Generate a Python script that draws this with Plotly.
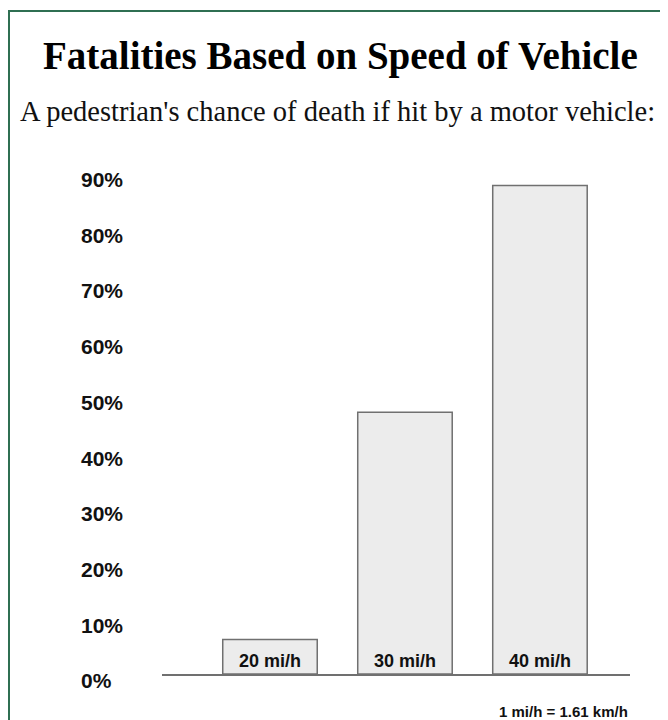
import plotly.graph_objects as go

# Data
speeds = ["20 mi/h", "30 mi/h", "40 mi/h"]
death_chance = [6.2, 47.0, 87.7]
tick_values = [0, 10, 20, 30, 40, 50, 60, 70, 80, 90]
tick_labels = ["0%\u2007", "10%", "20%", "30%", "40%", "50%", "60%", "70%", "80%", "90%"]

title_text = "Fatalities Based on Speed of Vehicle"
subtitle_text = "A pedestrian's chance of death if hit by a motor vehicle:"
footnote_text = "1 mi/h = 1.61 km/h"

OFF = 8  # browser default body margin
W, H = 668 - OFF, 720 - OFF
L, R, T, B = 162 - OFF, 38, 134 - OFF, 46
plot_w = W - L - R
plot_h = H - T - B

def px_x(p):
    return (p - OFF - L) / plot_w

def px_y(p):
    return (H - B - (p - OFF)) / plot_h

fig = go.Figure()
fig.add_trace(go.Bar(
    x=speeds,
    y=death_chance,
    width=0.70,
    marker=dict(color="#ececec", line=dict(color="#707070", width=1.5)),
    text=speeds,
    textposition="inside",
    insidetextanchor="start",
    textangle=0,
    constraintext="none",
    textfont=dict(family="Liberation Sans, Arial, sans-serif", size=18, color="#111111", weight="bold"),
    hoverinfo="skip",
    showlegend=False,
))

fig.update_layout(
    width=W, height=H,
    margin=dict(l=L, r=R, t=T, b=B, pad=0),
    paper_bgcolor="white",
    plot_bgcolor="white",
    bargap=0.3,
    xaxis=dict(
        range=[-0.8, 2.667],
        showticklabels=False,
        ticks="",
        showgrid=False,
        zeroline=False,
        showline=True,
        linecolor="#707070",
        linewidth=1.5,
        fixedrange=True,
    ),
    yaxis=dict(
        range=[0, plot_h / 5.57],
        tickvals=tick_values,
        ticktext=tick_labels,
        ticks="",
        showgrid=False,
        zeroline=False,
        showline=False,
        ticklabelshift=7,
        ticklabelstandoff=38,
        tickfont=dict(family="Liberation Sans, Arial, sans-serif", size=21, color="#111111", weight="bold"),
        fixedrange=True,
    ),
    shapes=[
        dict(type="path", xref="paper", yref="paper",
             path=f"M {px_x(9)} {px_y(740)} L {px_x(9)} {px_y(11)} L {px_x(700)} {px_y(11)}",
             line=dict(color="#2f6f52", width=2)),
    ],
    annotations=[
        dict(text=title_text, xref="paper", yref="paper",
             x=px_x(340), y=px_y(56), xanchor="center", yanchor="middle", showarrow=False,
             font=dict(family="Liberation Serif, Times New Roman, serif", size=39, color="#000000", weight="bold")),
        dict(text=subtitle_text, xref="paper", yref="paper",
             x=px_x(337), y=px_y(111), xanchor="center", yanchor="middle", showarrow=False,
             font=dict(family="Liberation Serif, Times New Roman, serif", size=28.5, color="#111111")),
        dict(text=footnote_text, xref="paper", yref="paper",
             x=px_x(630), y=px_y(711), xanchor="right", yanchor="middle", showarrow=False,
             font=dict(family="Liberation Sans, Arial, sans-serif", size=15, color="#111111", weight="bold")),
    ],
)

fig.write_html("out.html")
